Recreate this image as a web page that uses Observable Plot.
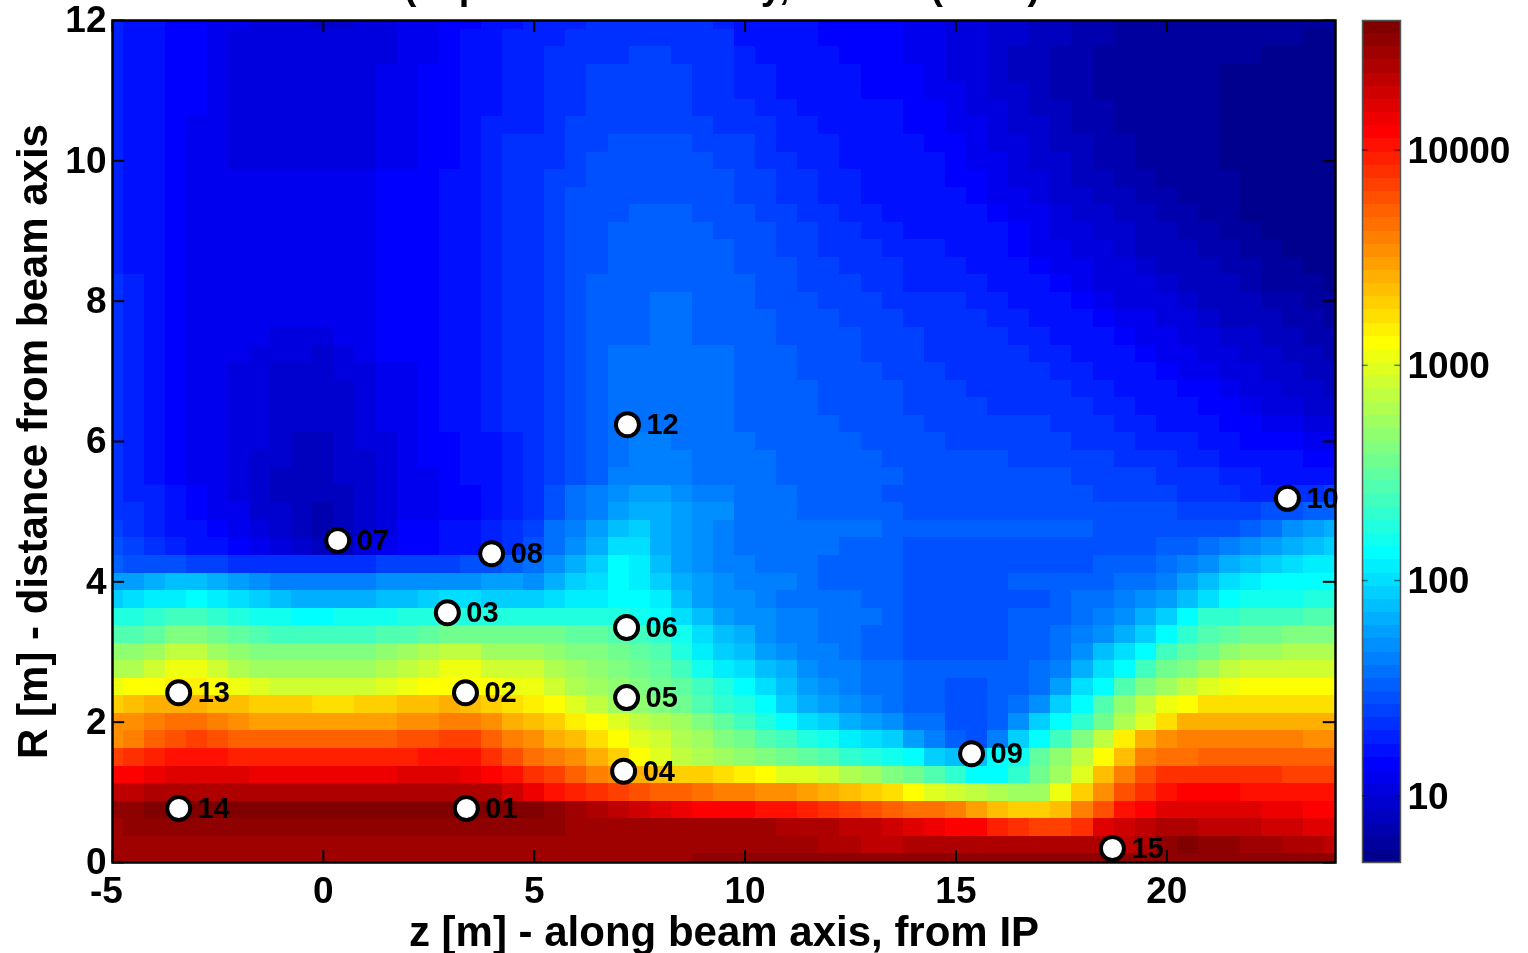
<!DOCTYPE html>
<html><head><meta charset="utf-8">
<script src="https://cdn.jsdelivr.net/npm/d3@7"></script>
<script src="https://cdn.jsdelivr.net/npm/@observablehq/plot@0.6"></script>
<style>
html,body{margin:0;padding:0;background:#fff;overflow:hidden;width:1528px;height:953px}
#wrap{position:relative;width:1528px;height:953px;overflow:hidden}
#wrap svg{position:absolute;top:0;filter:blur(0.6px);overflow:visible}
#title{position:absolute;left:0;width:1444px;top:-33px;text-align:center;font:bold 38px "Liberation Sans";line-height:38px;white-space:nowrap;filter:blur(0.6px)}
</style></head><body>
<div id="wrap"><div id="title"></div></div>
<script>
// Colour-bar step (0-63) read per cell; row number = R / 0.25 m, columns z = -5 ... 24 every 0.5 m
const row48=[9,8,8,7,7,6,6,5,5,5, 4,4,5,5,6,6,7,7,8,8, 9,9,9,10,10,10,10,10,10,9, 8,8,8,8,7,7,7,7,6,6, 5,5,4,4,3,3,2,2,1,1, 1,1,1,1,1,1,1,1,1];
const row47=[9,8,8,7,7,6,5,5,5,5, 5,5,5,5,6,6,7,8,8,9, 9,9,10,10,10,10,10,10,10,10, 8,8,8,8,7,7,7,7,6,6, 5,5,4,4,3,3,2,2,1,1, 1,1,1,1,1,1,1,0,0];
const row46=[9,8,8,7,7,6,5,5,5,5, 5,5,5,5,6,6,7,8,8,9, 9,10,10,10,10,11,11,10,10,10, 9,8,8,8,8,7,7,7,6,6, 5,5,4,3,3,2,2,1,1,1, 1,1,1,1,1,0,0,0,0];
const row45=[9,8,8,7,7,6,5,5,5,5, 5,5,5,6,6,7,7,8,8,9, 9,10,10,11,11,11,11,11,10,10, 9,9,8,8,8,8,7,7,7,6, 5,5,4,3,3,2,2,1,1,1, 1,1,1,0,0,0,0,0,0];
const row44=[9,8,8,7,7,6,5,5,5,5, 5,5,5,6,6,7,7,8,8,9, 9,10,10,11,11,11,11,11,10,10, 9,9,8,8,8,8,7,7,7,6, 6,5,4,4,3,2,2,1,1,1, 1,1,1,0,0,0,0,0,0];
const row43=[9,8,8,7,7,6,5,5,5,5, 5,5,5,6,6,7,7,8,8,9, 9,10,10,11,11,11,11,11,10,10, 10,9,9,8,8,8,8,8,7,7, 6,5,5,4,3,3,2,2,1,1, 1,1,1,0,0,0,0,0,0];
const row42=[9,8,8,7,6,6,5,5,5,5, 5,5,5,6,6,7,7,8,9,9, 9,10,11,11,11,11,11,11,11,10, 10,10,9,9,8,8,8,8,7,7, 6,6,5,4,4,3,2,2,1,1, 1,1,1,0,0,0,0,0,0];
const row41=[9,8,8,7,6,6,5,5,5,5, 5,5,5,6,6,7,7,8,9,10, 10,10,11,11,12,12,12,12,11,11, 11,10,9,9,9,8,8,8,8,7, 7,6,5,5,4,3,3,2,2,1, 1,1,1,0,0,0,0,0,0];
const row40=[9,8,8,7,6,6,5,5,5,5, 5,5,5,6,6,7,7,8,9,10, 10,10,11,12,12,12,12,12,12,11, 11,10,10,9,9,8,8,8,8,8, 7,6,6,5,4,4,3,2,2,1, 1,1,1,0,0,0,0,0,0];
const row39=[9,8,8,7,6,6,6,6,6,6, 6,6,6,7,7,7,8,8,9,10, 10,11,11,12,12,12,12,12,12,12, 11,11,10,10,9,9,8,8,8,8, 7,7,6,5,5,4,3,3,2,2, 1,1,1,1,0,0,0,0,0];
const row38=[9,8,8,7,6,6,6,6,6,6, 6,6,6,7,7,7,8,8,9,10, 10,11,12,12,12,12,12,12,12,12, 11,11,10,10,9,9,8,8,8,8, 8,7,6,6,5,4,4,3,3,2, 2,1,1,1,0,0,0,0,0];
const row37=[9,8,8,7,6,6,6,6,6,6, 6,6,6,7,7,7,8,8,9,10, 10,11,12,12,12,13,13,13,12,12, 12,11,11,10,10,9,9,8,8,8, 8,8,7,6,6,5,4,4,3,3, 2,2,1,1,0,0,0,0,0];
const row36=[9,8,8,7,6,6,6,6,6,6, 6,6,6,7,7,7,8,8,9,10, 10,11,12,12,13,13,13,13,13,12, 12,12,11,11,10,10,9,9,8,8, 8,8,8,7,6,5,5,4,4,3, 3,2,2,1,1,0,0,0,0];
const row35=[9,8,8,7,6,6,6,6,6,6, 6,6,6,7,7,7,8,8,9,10, 10,11,12,12,13,13,13,13,13,13, 12,12,11,11,10,10,10,9,9,9, 8,8,8,7,6,6,5,5,4,3, 3,3,2,2,1,1,0,0,0];
const row34=[9,8,8,7,6,6,6,6,6,6, 6,6,6,7,7,7,8,8,9,10, 10,11,12,12,13,13,13,13,13,13, 12,12,12,11,11,10,10,10,9,9, 9,8,8,8,7,6,6,5,5,4, 3,3,3,2,2,1,1,0,0];
const row33=[10,9,8,7,6,6,6,6,6,6, 6,6,6,7,7,7,8,8,9,10, 10,11,12,13,13,13,13,13,13,13, 13,12,12,11,11,11,10,10,9,9, 9,9,8,8,8,7,6,5,5,5, 4,3,3,3,2,1,1,1,0];
const row32=[10,9,8,7,6,6,6,6,6,6, 6,6,6,7,7,7,8,8,9,10, 10,11,12,13,13,13,14,14,13,13, 13,12,12,12,11,11,11,10,10,10, 10,9,9,8,8,8,7,6,5,5, 5,4,3,3,3,2,2,1,1];
const row31=[10,9,8,7,6,6,6,6,6,6, 6,6,6,7,7,7,8,8,9,10, 10,11,12,13,13,13,14,14,13,13, 13,13,12,12,12,11,11,11,10,10, 10,10,9,9,8,8,8,7,6,6, 5,5,4,3,3,3,2,2,1];
const row30=[10,9,8,7,6,6,6,6,5,5, 5,6,6,7,7,7,8,8,9,10, 10,11,12,13,13,13,14,14,13,13, 13,13,12,12,12,12,11,11,11,10, 10,10,10,9,9,8,8,8,7,6, 6,5,5,4,4,3,3,2,2];
const row29=[10,9,8,7,6,6,6,5,5,5, 4,5,6,7,7,7,8,8,9,10, 10,11,12,13,14,14,14,14,14,14, 13,13,13,12,12,12,11,11,11,10, 10,10,10,10,9,9,8,8,8,7, 6,6,5,5,4,4,3,3,2];
const row28=[10,9,8,7,6,6,5,5,4,4, 4,5,5,6,6,7,8,8,9,10, 10,11,12,13,14,14,14,14,14,14, 13,13,13,12,12,12,12,11,11,11, 10,10,10,10,10,9,9,8,8,8, 7,6,6,5,5,4,4,3,3];
const row27=[10,9,8,7,6,6,5,5,4,4, 4,4,5,6,6,7,8,8,9,10, 10,11,12,13,14,14,14,14,14,14, 13,13,13,13,12,12,12,12,11,11, 11,10,10,10,10,10,9,9,8,8, 8,7,7,6,5,5,4,4,3];
const row26=[10,9,8,7,6,6,5,5,4,4, 4,4,5,6,6,7,8,8,9,10, 10,11,12,13,14,14,14,14,14,14, 13,13,13,13,12,12,12,12,11,11, 11,11,10,10,10,10,10,9,9,8, 8,8,7,7,6,5,5,4,4];
const row25=[10,9,8,7,6,6,5,5,4,4, 4,4,5,6,6,7,8,8,9,10, 10,11,12,13,14,14,14,14,14,14, 13,13,13,13,13,12,12,12,12,11, 11,11,11,11,11,10,10,10,9,9, 8,8,8,7,7,6,6,5,5];
const row24=[10,9,8,7,6,6,5,5,4,3, 3,4,5,5,6,7,7,8,8,9, 10,11,12,13,14,15,15,14,14,14, 14,13,13,13,13,13,12,12,12,12, 11,11,11,11,11,11,10,10,10,9, 9,9,8,8,7,7,7,6,6];
const row23=[10,9,8,7,6,6,5,4,4,3, 3,4,4,5,6,7,7,8,8,9, 10,11,12,13,14,15,15,15,14,14, 14,14,13,13,13,13,13,12,12,12, 12,12,12,11,11,11,11,11,10,10, 10,9,9,8,8,8,8,7,7];
const row22=[10,9,8,7,6,6,5,4,3,3, 3,4,4,5,6,6,7,8,8,9, 10,11,12,13,15,15,15,15,14,14, 14,14,13,13,13,13,13,13,12,12, 12,12,12,12,12,12,11,11,11,11, 10,10,10,9,9,8,8,8,8];
const row21=[10,9,9,8,7,6,5,4,3,3, 3,3,4,5,6,6,7,7,8,9, 10,12,14,15,16,17,17,16,15,15, 14,14,14,13,13,13,13,12,12,12, 12,12,12,12,12,12,12,11,11,11, 11,10,10,10,9,9,10,10,11];
const row20=[10,10,9,8,7,6,6,4,4,3, 2,3,4,5,6,6,7,7,8,9, 10,12,14,15,17,18,18,17,16,16, 14,14,14,13,13,13,13,13,12,12, 12,12,12,12,12,12,12,12,12,12, 12,11,11,11,11,12,12,13,13];
const row19=[11,10,9,8,8,7,6,5,4,3, 2,3,4,5,7,7,8,8,9,10, 11,14,15,17,19,20,18,17,16,15, 14,14,14,14,14,14,14,13,13,13, 13,13,13,13,13,13,13,12,12,12, 12,12,12,12,13,14,16,17,18];
const row18=[12,11,10,9,8,8,7,6,5,4, 3,3,5,6,7,7,8,8,9,10, 12,14,16,18,21,21,18,17,16,15, 14,14,14,14,14,13,13,13,12,12, 12,12,12,12,12,12,12,12,12,12, 13,13,14,15,16,17,18,19,20];
const row17=[13,12,12,12,11,11,10,10,10,10, 10,10,10,11,11,11,11,12,12,13, 14,16,18,20,23,22,19,17,16,15, 15,14,14,14,13,13,13,13,12,12, 12,12,12,12,12,12,12,13,13,13, 14,15,16,18,19,20,21,22,22];
const row16=[17,17,18,19,19,18,17,16,15,15, 15,15,15,16,16,16,16,16,17,17, 16,18,20,21,23,22,20,18,17,16, 15,15,15,14,13,13,13,13,12,12, 12,12,12,13,13,13,13,13,14,14, 15,17,19,21,22,23,23,23,23];
const row15=[20,21,22,22,23,22,21,20,19,18, 18,18,18,19,19,20,21,21,20,20, 20,21,22,22,23,23,22,19,17,16, 16,15,14,14,14,14,13,13,12,12, 12,12,12,12,12,13,14,14,15,16, 17,19,21,23,24,24,24,25,25];
const row14=[25,25,26,27,27,26,25,24,24,23, 23,24,24,24,25,25,25,25,25,25, 25,25,25,25,25,24,23,21,19,17, 16,16,15,15,14,14,14,13,12,12, 12,12,12,13,13,13,14,15,16,18, 20,23,26,26,27,27,27,28,28];
const row13=[28,28,29,31,31,30,29,28,27,27, 27,27,27,28,28,29,30,30,30,30, 30,30,29,29,28,27,26,24,21,19, 18,16,15,15,14,14,13,13,12,12, 12,12,12,13,13,14,15,16,18,20, 23,26,28,29,30,30,31,31,31];
const row12=[32,32,33,35,35,33,32,31,31,31, 31,31,31,32,33,34,35,35,33,33, 33,32,31,31,30,29,28,25,22,20, 19,17,16,15,15,14,13,13,12,12, 12,12,12,13,13,14,16,19,21,23, 27,29,30,32,33,33,34,34,34];
const row11=[34,34,36,38,38,36,34,33,33,33, 33,33,33,34,35,36,38,38,36,36, 36,34,33,32,31,30,29,27,24,22, 21,19,18,16,15,15,14,14,13,13, 13,13,13,13,14,15,18,21,23,27, 30,31,33,35,36,36,36,36,36];
const row10=[38,39,39,40,40,39,38,37,36,36, 36,36,36,37,38,39,39,39,39,38, 38,36,34,33,32,31,30,29,27,25, 23,21,19,17,16,15,14,14,13,13, 12,12,13,13,14,17,21,23,28,31, 33,35,37,38,39,39,39,39,39];
const row09=[42,43,44,44,44,43,43,42,42,42, 41,41,42,42,43,43,44,43,42,41, 40,39,37,35,33,32,31,30,28,26, 25,23,20,18,17,16,15,14,13,13, 12,12,13,14,16,20,23,28,32,35, 38,39,41,41,41,41,41,41,41];
const row08=[46,46,47,48,48,47,46,45,45,45, 45,45,45,45,46,46,47,47,46,44, 43,42,40,39,37,35,34,33,31,29, 27,25,23,21,20,18,17,16,14,14, 12,12,13,16,20,23,26,30,34,37, 41,44,44,44,44,44,44,44,44];
const row07=[46,47,49,50,51,50,49,49,49,49, 49,49,49,49,50,50,51,51,49,47, 46,44,43,41,39,37,36,34,33,31, 30,28,27,25,24,22,21,20,17,15, 13,12,15,20,23,27,31,35,40,44, 46,47,47,47,47,47,47,46,46];
const row06=[51,52,53,54,54,54,53,53,53,53, 53,53,53,53,53,54,54,54,52,50, 48,47,46,44,42,39,37,35,34,33, 32,31,30,29,28,26,25,24,23,20, 19,19,23,24,29,32,35,39,43,47, 48,48,49,49,49,49,49,49,49];
const row05=[55,55,56,57,57,57,57,56,56,56, 56,56,56,56,57,57,57,56,55,54, 52,51,49,47,46,44,43,42,42,41, 40,39,37,37,36,34,33,31,30,28, 26,23,23,26,30,33,37,43,47,50, 52,52,52,52,52,52,51,51,51];
const row04=[59,59,60,60,60,60,60,60,60,60, 60,60,60,60,60,60,60,60,60,58, 56,54,53,52,51,50,49,49,48,47, 47,46,46,45,44,43,42,41,39,37, 36,35,34,33,33,38,42,46,50,52, 54,55,55,55,54,54,54,54,54];
const row03=[62,62,63,63,63,63,63,63,63,63, 63,63,63,63,63,63,63,63,63,63, 63,62,61,60,59,58,57,56,55,55, 55,54,54,53,52,51,50,49,48,48, 47,45,43,42,42,43,47,50,54,55, 57,57,57,57,57,56,56,55,55];
const row02=[61,62,62,62,62,62,62,62,62,62, 62,62,62,62,62,62,62,62,62,62, 62,62,61,61,61,61,61,61,61,61, 61,61,60,60,60,59,59,58,57,56, 55,55,53,52,51,51,52,57,58,59, 60,60,59,59,59,58,58,57,57];
const row01=[61,61,61,61,61,61,61,61,61,61, 61,61,61,61,61,61,61,61,61,61, 61,61,61,61,61,61,61,61,61,61, 61,61,61,61,60,60,59,59,60,60, 60,60,60,60,60,60,60,60,59,60, 62,63,62,62,61,61,60,60,59];
const row00=[61,61,61,61,61,61,61,61,61,61, 61,61,61,61,61,61,61,61,61,61, 61,61,61,61,61,61,61,61,62,62, 62,62,62,62,62,62,62,62,62,62, 62,62,62,62,62,62,62,62,62,62, 62,62,62,62,62,62,62,62,62];
const levelRows=[row00,row01,row02,row03,row04,row05,row06,row07,row08,row09,row10,row11,row12,row13,row14,row15,row16,row17,row18,row19,row20,row21,row22,row23,row24,row25,row26,row27,row28,row29,row30,row31,row32,row33,row34,row35,row36,row37,row38,row39,row40,row41,row42,row43,row44,row45,row46,row47,row48];

const stationNames=["01","02","03","04","05","06","07","08","09","10","12","13","14","15"];
const stationZ=[3.39,3.37,2.94,7.12,7.19,7.19,0.34,3.99,15.37,22.86,7.21,-3.43,-3.43,18.71];
const stationR=[0.77,2.42,3.56,1.30,2.35,3.35,4.59,4.40,1.55,5.19,6.24,2.42,0.77,0.20];

const zTicks=[0,5,10,15,20];
const zFirstTick=[-5];
const rTicks=[0,2,4,6,8,10,12];
const barTicks=[10,100,1000,10000];
const barMin=4.9, barMax=40000, barSteps=64;
const titleText="(expected luminosity, 14 TeV (2012)";
const xLabel="z [m] - along beam axis, from IP";
const yLabel="R [m] - distance from beam axis";

const stepLog=Math.log10(barMax/barMin)/barSteps;
const levelValue=L=>barMin*Math.pow(10,L*stepLog);
const cl=v=>Math.round(255*Math.max(0,Math.min(1,v)));
// MATLAB jet(64), stepped
const jet=t=>{const x=(Math.min(barSteps-1,Math.max(0,Math.floor(t*barSteps)))+1)/barSteps;
  return `rgb(${cl(1.5-Math.abs(4*x-3))},${cl(1.5-Math.abs(4*x-2))},${cl(1.5-Math.abs(4*x-1))})`;};
const colorScale={type:"log",domain:[barMin,barMax],interpolate:jet};

const cells=levelRows.flatMap((row,k)=>row.map((L,j)=>({z:-5+0.5*j,R:k*0.25,v:levelValue(L+0.5)})));
const stations=stationNames.map((name,i)=>({name,z:stationZ[i],R:stationR[i]}));
const font={fontFamily:"Liberation Sans",fontWeight:"bold",fontSize:"37px",color:"#000",background:"none"};
const allZ=[...zFirstTick,...zTicks];

const main=Plot.plot({
  width:1528,height:953,marginLeft:112,marginRight:193,marginTop:20,marginBottom:91,
  style:font,
  x:{domain:[-5,24]},y:{domain:[0,12]},color:colorScale,
  marks:[
    Plot.rect(cells,{x1:d=>d.z-0.25,x2:d=>d.z+0.25,y1:d=>d.R-0.125,y2:d=>d.R+0.125,fill:"v",clip:true,shapeRendering:"crispEdges"}),
    Plot.frame({stroke:"#000",strokeWidth:2.5}),
    Plot.ruleX(allZ,{y1:0,y2:0.17,stroke:"#000",strokeWidth:2}),
    Plot.ruleX(allZ,{y1:12,y2:11.83,stroke:"#000",strokeWidth:2}),
    Plot.ruleY(rTicks,{x1:-5,x2:-4.71,stroke:"#000",strokeWidth:2}),
    Plot.ruleY(rTicks,{x1:24,x2:23.71,stroke:"#000",strokeWidth:2}),
    Plot.axisX(zTicks,{tickSize:0,tickPadding:14,tickFormat:d=>String(d),label:null}),
    Plot.axisX(zFirstTick,{tickSize:0,tickPadding:14,dx:-6,tickFormat:d=>String(d),label:null}),
    Plot.axisY(rTicks,{tickSize:0,tickPadding:6,tickFormat:d=>String(d),label:null}),
    Plot.text([xLabel],{frameAnchor:"bottom",lineAnchor:"middle",dy:70,fontSize:42,fontWeight:"bold",fill:"#000"}),
    Plot.text([yLabel],{frameAnchor:"left",textAnchor:"middle",lineAnchor:"middle",rotate:-90,dx:-79,fontSize:42,fontWeight:"bold",fill:"#000"}),
    Plot.dot(stations,{x:"z",y:"R",r:11.5,fill:"#fff",stroke:"#000",strokeWidth:4}),
    Plot.text(stations,{x:"z",y:"R",text:"name",dx:19,textAnchor:"start",fontSize:29,fontWeight:"bold",fill:"#000"})
  ]
});
main.style.left="0px";

const barCells=d3.range(barSteps).map(L=>({lo:levelValue(L),hi:levelValue(L+1),mid:levelValue(L+0.5)}));
const bar=Plot.plot({
  width:166,height:953,marginLeft:0,marginRight:128,marginTop:20,marginBottom:91,
  style:font,
  x:{domain:[0,1],axis:null},
  y:{type:"log",domain:[barMin,barMax]},
  color:colorScale,
  marks:[
    Plot.rect(barCells,{x1:0,x2:1,y1:"lo",y2:"hi",fill:"mid",shapeRendering:"crispEdges"}),
    Plot.frame({stroke:"#555",strokeWidth:1.5}),
    Plot.ruleY(barTicks,{x1:0,x2:0.15,stroke:"#000",strokeOpacity:0.5,strokeWidth:1.5}),
    Plot.ruleY(barTicks,{x1:0.85,x2:1,stroke:"#000",strokeOpacity:0.5,strokeWidth:1.5}),
    Plot.axisY(barTicks,{anchor:"right",tickSize:0,tickPadding:7,dy:1,tickFormat:d=>String(d),label:null})
  ]
});
bar.style.left="1362px";

document.getElementById("title").textContent=titleText;
document.getElementById("wrap").append(main,bar);
</script>
</body></html>
